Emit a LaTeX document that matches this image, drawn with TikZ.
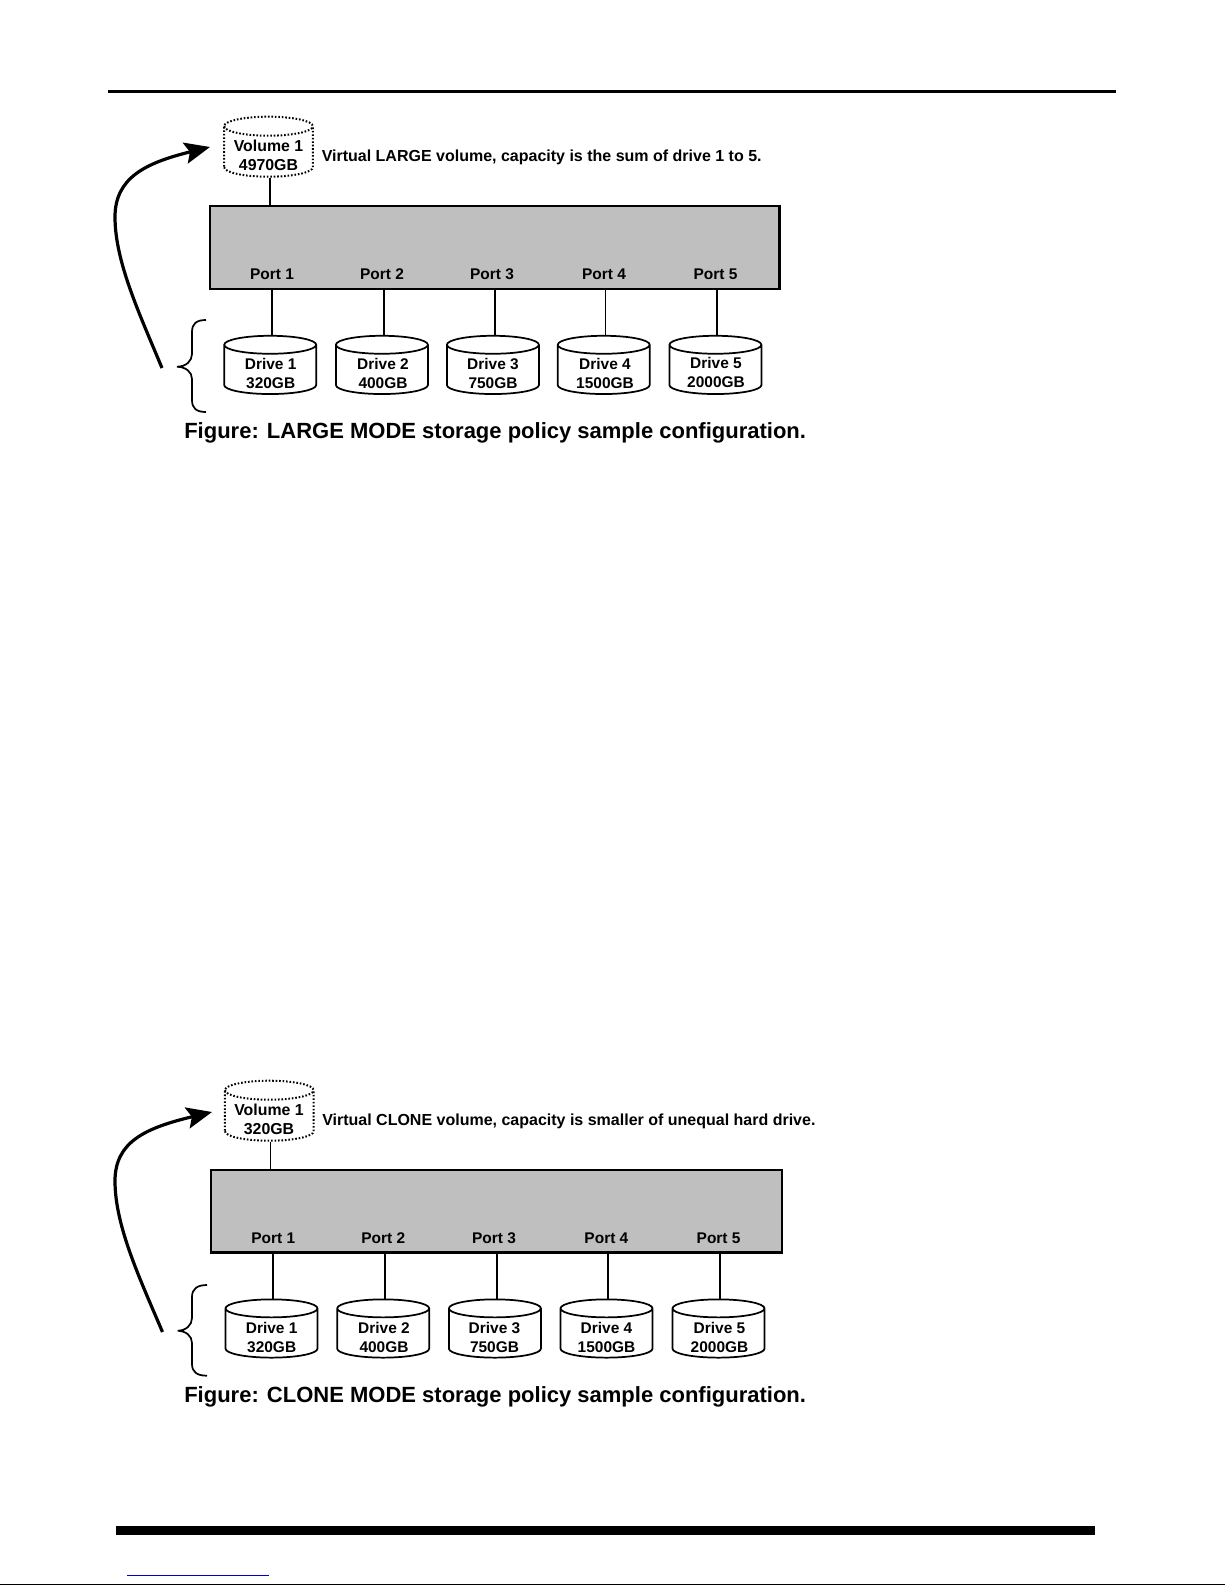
\documentclass[tikz,border=0pt]{standalone}
\usepackage{fontspec}
\setmainfont{Liberation Sans}
\usepackage{tikz}
\usetikzlibrary{arrows.meta, shapes.geometric}

\begin{document}
\begin{tikzpicture}[
  x=0.75pt,
  y=-0.75pt,
  font=\bfseries,
  drive/.style={draw, cylinder, shape border rotate=90, aspect=0.36, text width=37.5pt, anchor=shape center, inner sep=0pt, minimum width=69pt, minimum height=43.7pt, line width=1.3pt},
  volume/.style={draw, cylinder, shape border rotate=90, aspect=0.38, text width=37.5pt, anchor=shape center, inner sep=0pt, minimum width=66.5pt, minimum height=45pt, line width=1.5pt, dash pattern=on 1.2pt off 1.4pt},
  switchbox/.style={draw, fill=black!25, line width=1.9pt, minimum width=427pt, minimum height=62pt, inner sep=0pt},
  port/.style={font=\fontsize{11.6}{14}\selectfont\bfseries, inner sep=0pt},
  drivetext/.style={align=center, inner sep=0pt, font=\fontsize{11.6}{14.2}\selectfont\bfseries},
  voltext/.style={align=center, inner sep=0pt, font=\fontsize{11.9}{14.2}\selectfont\bfseries},
  note/.style={font=\fontsize{12}{14}\selectfont\bfseries, anchor=west, inner sep=0pt},
  caption/.style={font=\fontsize{16.5}{20}\selectfont\bfseries, anchor=west, inner sep=0pt},
  link/.style={line width=1.3pt},
  bigarrow/.style={-{Stealth[length=19pt, width=16pt, inset=3.5pt]}, line width=2.4pt},
  bracket/.style={line width=1.3pt}
]
\useasboundingbox (0,0) rectangle (1225,1585);
\fill (108,89.7) rectangle (1116,92.7);

% large mode
\node[volume] (vol1) at (268.5,146.7) {};
\node[voltext] (volt1) at (268.5,155) {Volume 1\\4970GB};
\node[note] (note1) at (321.5,157) {Virtual LARGE volume, capacity is the sum of drive 1 to 5.};
\node[switchbox] (box1) at (494.7,247.5) {};
\node[port] (p11) at (272,274) {Port 1};
\node[port] (p12) at (382,274) {Port 2};
\node[port] (p13) at (492,274) {Port 3};
\node[port] (p14) at (604,274) {Port 4};
\node[port] (p15) at (715.5,274) {Port 5};
\node[drive] (d11) at (270.2,364.9) {};
\node[drive] (d12) at (381.9,364.9) {};
\node[drive] (d13) at (492.9,364.9) {};
\node[drive] (d14) at (603.7,364.9) {};
\node[drive] (d15) at (715.4,364.9) {};
\node[drivetext] (t11) at (270.7,373.5) {Drive 1\\320GB};
\node[drivetext] (t12) at (383,373.5) {Drive 2\\400GB};
\node[drivetext] (t13) at (493,373.5) {Drive 3\\750GB};
\node[drivetext] (t14) at (605,373.5) {Drive 4\\1500GB};
\node[drivetext] (t15) at (716,372.5) {Drive 5\\2000GB};
\node[caption] (cap1) at (184,433) {Figure: LARGE MODE storage policy sample configuration.};
\coordinate (tail1) at (162,368);
\coordinate (head1) at (210,147);
\draw[line width=0.9pt] ([xshift=1.1pt]vol1.south) -- ([xshift=1.1pt]vol1.south |- box1.north);
\draw[link] ([xshift=1.3pt]d11.north) -- ([xshift=1.3pt]d11.north |- box1.south);
\draw[link] ([xshift=1.3pt]d12.north) -- ([xshift=1.3pt]d12.north |- box1.south);
\draw[link] ([xshift=1.3pt]d13.north) -- ([xshift=1.3pt]d13.north |- box1.south);
\draw[link] ([xshift=1.3pt]d14.north) -- ([xshift=1.3pt]d14.north |- box1.south);
\draw[link] ([xshift=1.3pt]d15.north) -- ([xshift=1.3pt]d15.north |- box1.south);
\draw[bigarrow] (tail1) .. controls (140,315) and (115,262) .. (115,217) .. controls (115,178) and (145,163) .. (head1);
\draw[bracket] (206,320) .. controls (196,320) and (192,324) .. (192,332) -- (192,354) .. controls (192,361) and (186,366.7) .. (177,366.7) .. controls (186,367) and (192,372) .. (192,379) -- (192,400) .. controls (192,408) and (196,412) .. (206,412);

% clone mode
\node[volume] (vol2) at (269.3,1110.7) {};
\node[voltext] (volt2) at (269,1119) {Volume 1\\320GB};
\node[note] (note2) at (322,1121) {Virtual CLONE volume, capacity is smaller of unequal hard drive.};
\node[switchbox, minimum width=428pt] (box2) at (496.5,1211.2) {};
\node[port] (p21) at (273.3,1238) {Port 1};
\node[port] (p22) at (383.3,1238) {Port 2};
\node[port] (p23) at (494,1238) {Port 3};
\node[port] (p24) at (606.4,1238) {Port 4};
\node[port] (p25) at (718.6,1238) {Port 5};
\node[drive] (d21) at (271.5,1328.5) {};
\node[drive] (d22) at (383.2,1328.5) {};
\node[drive] (d23) at (494.9,1328.5) {};
\node[drive] (d24) at (606.5,1328.5) {};
\node[drive] (d25) at (718.5,1328.5) {};
\node[drivetext] (t21) at (271.7,1337.5) {Drive 1\\320GB};
\node[drivetext] (t22) at (384,1337.5) {Drive 2\\400GB};
\node[drivetext] (t23) at (494.5,1337.5) {Drive 3\\750GB};
\node[drivetext] (t24) at (606.5,1337.5) {Drive 4\\1500GB};
\node[drivetext] (t25) at (719.5,1337.5) {Drive 5\\2000GB};
\node[caption] (cap2) at (184,1397) {Figure: CLONE MODE storage policy sample configuration.};
\coordinate (tail2) at (162.5,1332);
\coordinate (head2) at (212,1112);
\draw[link] ([xshift=0.8pt]vol2.south) -- ([xshift=0.8pt]vol2.south |- box2.north);
\draw[link] ([xshift=1.3pt]d21.north) -- ([xshift=1.3pt]d21.north |- box2.south);
\draw[link] ([xshift=1.3pt]d22.north) -- ([xshift=1.3pt]d22.north |- box2.south);
\draw[link] ([xshift=1.3pt]d23.north) -- ([xshift=1.3pt]d23.north |- box2.south);
\draw[link] ([xshift=1.3pt]d24.north) -- ([xshift=1.3pt]d24.north |- box2.south);
\draw[link] ([xshift=1.3pt]d25.north) -- ([xshift=1.3pt]d25.north |- box2.south);
\draw[bigarrow] (tail2) .. controls (140,1279) and (115,1226) .. (115,1181) .. controls (115,1142) and (145,1128) .. (head2);
\draw[bracket] (207,1285) .. controls (197,1285) and (192,1289) .. (192,1297) -- (192,1318) .. controls (192,1325) and (186,1330.7) .. (177.7,1330.7) .. controls (186,1331) and (192,1336) .. (192,1343) -- (192,1364) .. controls (192,1372) and (197,1375.7) .. (207,1375.7);

\fill (116,1526) rectangle (1094.7,1535);
\draw[blue!80!black, line width=0.9pt] (127,1575.3) -- (269,1575.3);
\draw[line width=0.9pt] (0,1584.4) -- (1225,1584.4);
\end{tikzpicture}
\end{document}
